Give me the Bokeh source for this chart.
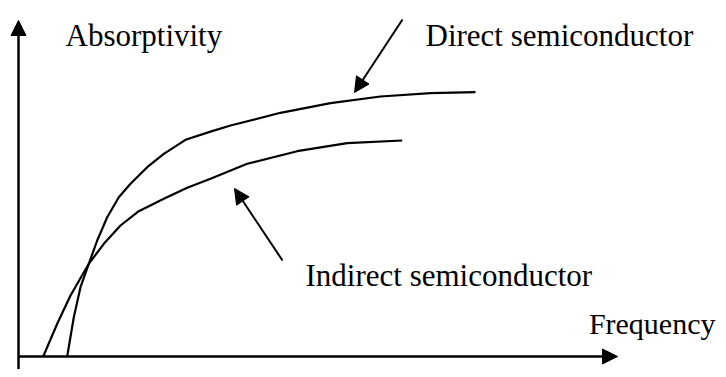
from bokeh.plotting import figure
from bokeh.models import Range1d, Arrow, NormalHead, ColumnDataSource
from bokeh.core.properties import value
from bokeh.embed import file_html
from bokeh.resources import INLINE

# Schematic data (arbitrary units: frequency vs absorptivity)
direct_freq = [0.487, 0.553, 0.62, 0.703, 0.787, 0.887, 1.003, 1.12, 1.287, 1.453, 1.67,
               1.92, 2.12, 2.62, 3.12, 3.62, 4.12, 4.57]
direct_abs = [0.00, 0.393, 0.693, 0.927, 1.16, 1.393, 1.593, 1.727, 1.893, 2.027, 2.167,
              2.249, 2.31, 2.437, 2.533, 2.60, 2.633, 2.643]

indirect_freq = [0.247, 0.387, 0.52, 0.703, 0.853, 1.02, 1.203, 1.453, 1.687, 1.92,
                 2.287, 2.787, 3.287, 3.837]
indirect_abs = [0.00, 0.327, 0.61, 0.927, 1.127, 1.31, 1.453, 1.577, 1.687, 1.777,
                1.927, 2.053, 2.133, 2.16]

labels = ["Absorptivity", "Direct semiconductor", "Indirect semiconductor"]
x_label = "Frequency"

p = figure(width=718, height=369, output_backend="svg", toolbar_location=None,
           x_range=Range1d(-0.18, 7.00), y_range=Range1d(-0.13, 3.56),
           x_axis_type=None, y_axis_type=None, min_border=0)
p.grid.visible = False
p.outline_line_color = None
p.background_fill_color = "white"

# axes as arrows
p.add_layout(Arrow(end=NormalHead(size=15, fill_color="black", line_color="black"),
                   x_start=0, y_start=-0.13, x_end=0, y_end=3.36,
                   line_width=2.5, line_color="black"))
p.add_layout(Arrow(end=NormalHead(size=15, fill_color="black", line_color="black"),
                   x_start=0, y_start=0, x_end=5.99, y_end=0,
                   line_width=2.5, line_color="black"))

p.line(direct_freq, direct_abs, line_width=2.2, line_color="black", line_join="round")
p.line(indirect_freq, indirect_abs, line_width=2.2, line_color="black", line_join="round")

# pointer arrows
p.add_layout(Arrow(end=NormalHead(size=15, fill_color="black", line_color="black"),
                   x_start=3.84, y_start=3.37, x_end=3.36, y_end=2.64,
                   line_width=2, line_color="black"))
p.add_layout(Arrow(end=NormalHead(size=15, fill_color="black", line_color="black"),
                   x_start=2.64, y_start=0.96, x_end=2.16, y_end=1.68,
                   line_width=2, line_color="black"))

src = ColumnDataSource(dict(x=[0.47, 4.07, 2.87], y=[3.21, 3.21, 0.81], t=labels))
p.text(x="x", y="y", text="t", source=src, text_font=value("Liberation Serif"),
       text_font_size="31px", text_baseline="alphabetic", text_align="left",
       text_color="black")
p.text(x=[6.97], y=[0.33], text=[x_label], text_font=value("Liberation Serif"),
       text_font_size="30px", text_baseline="alphabetic", text_align="right",
       text_color="black")

open("out.html", "w").write(file_html(p, INLINE))
